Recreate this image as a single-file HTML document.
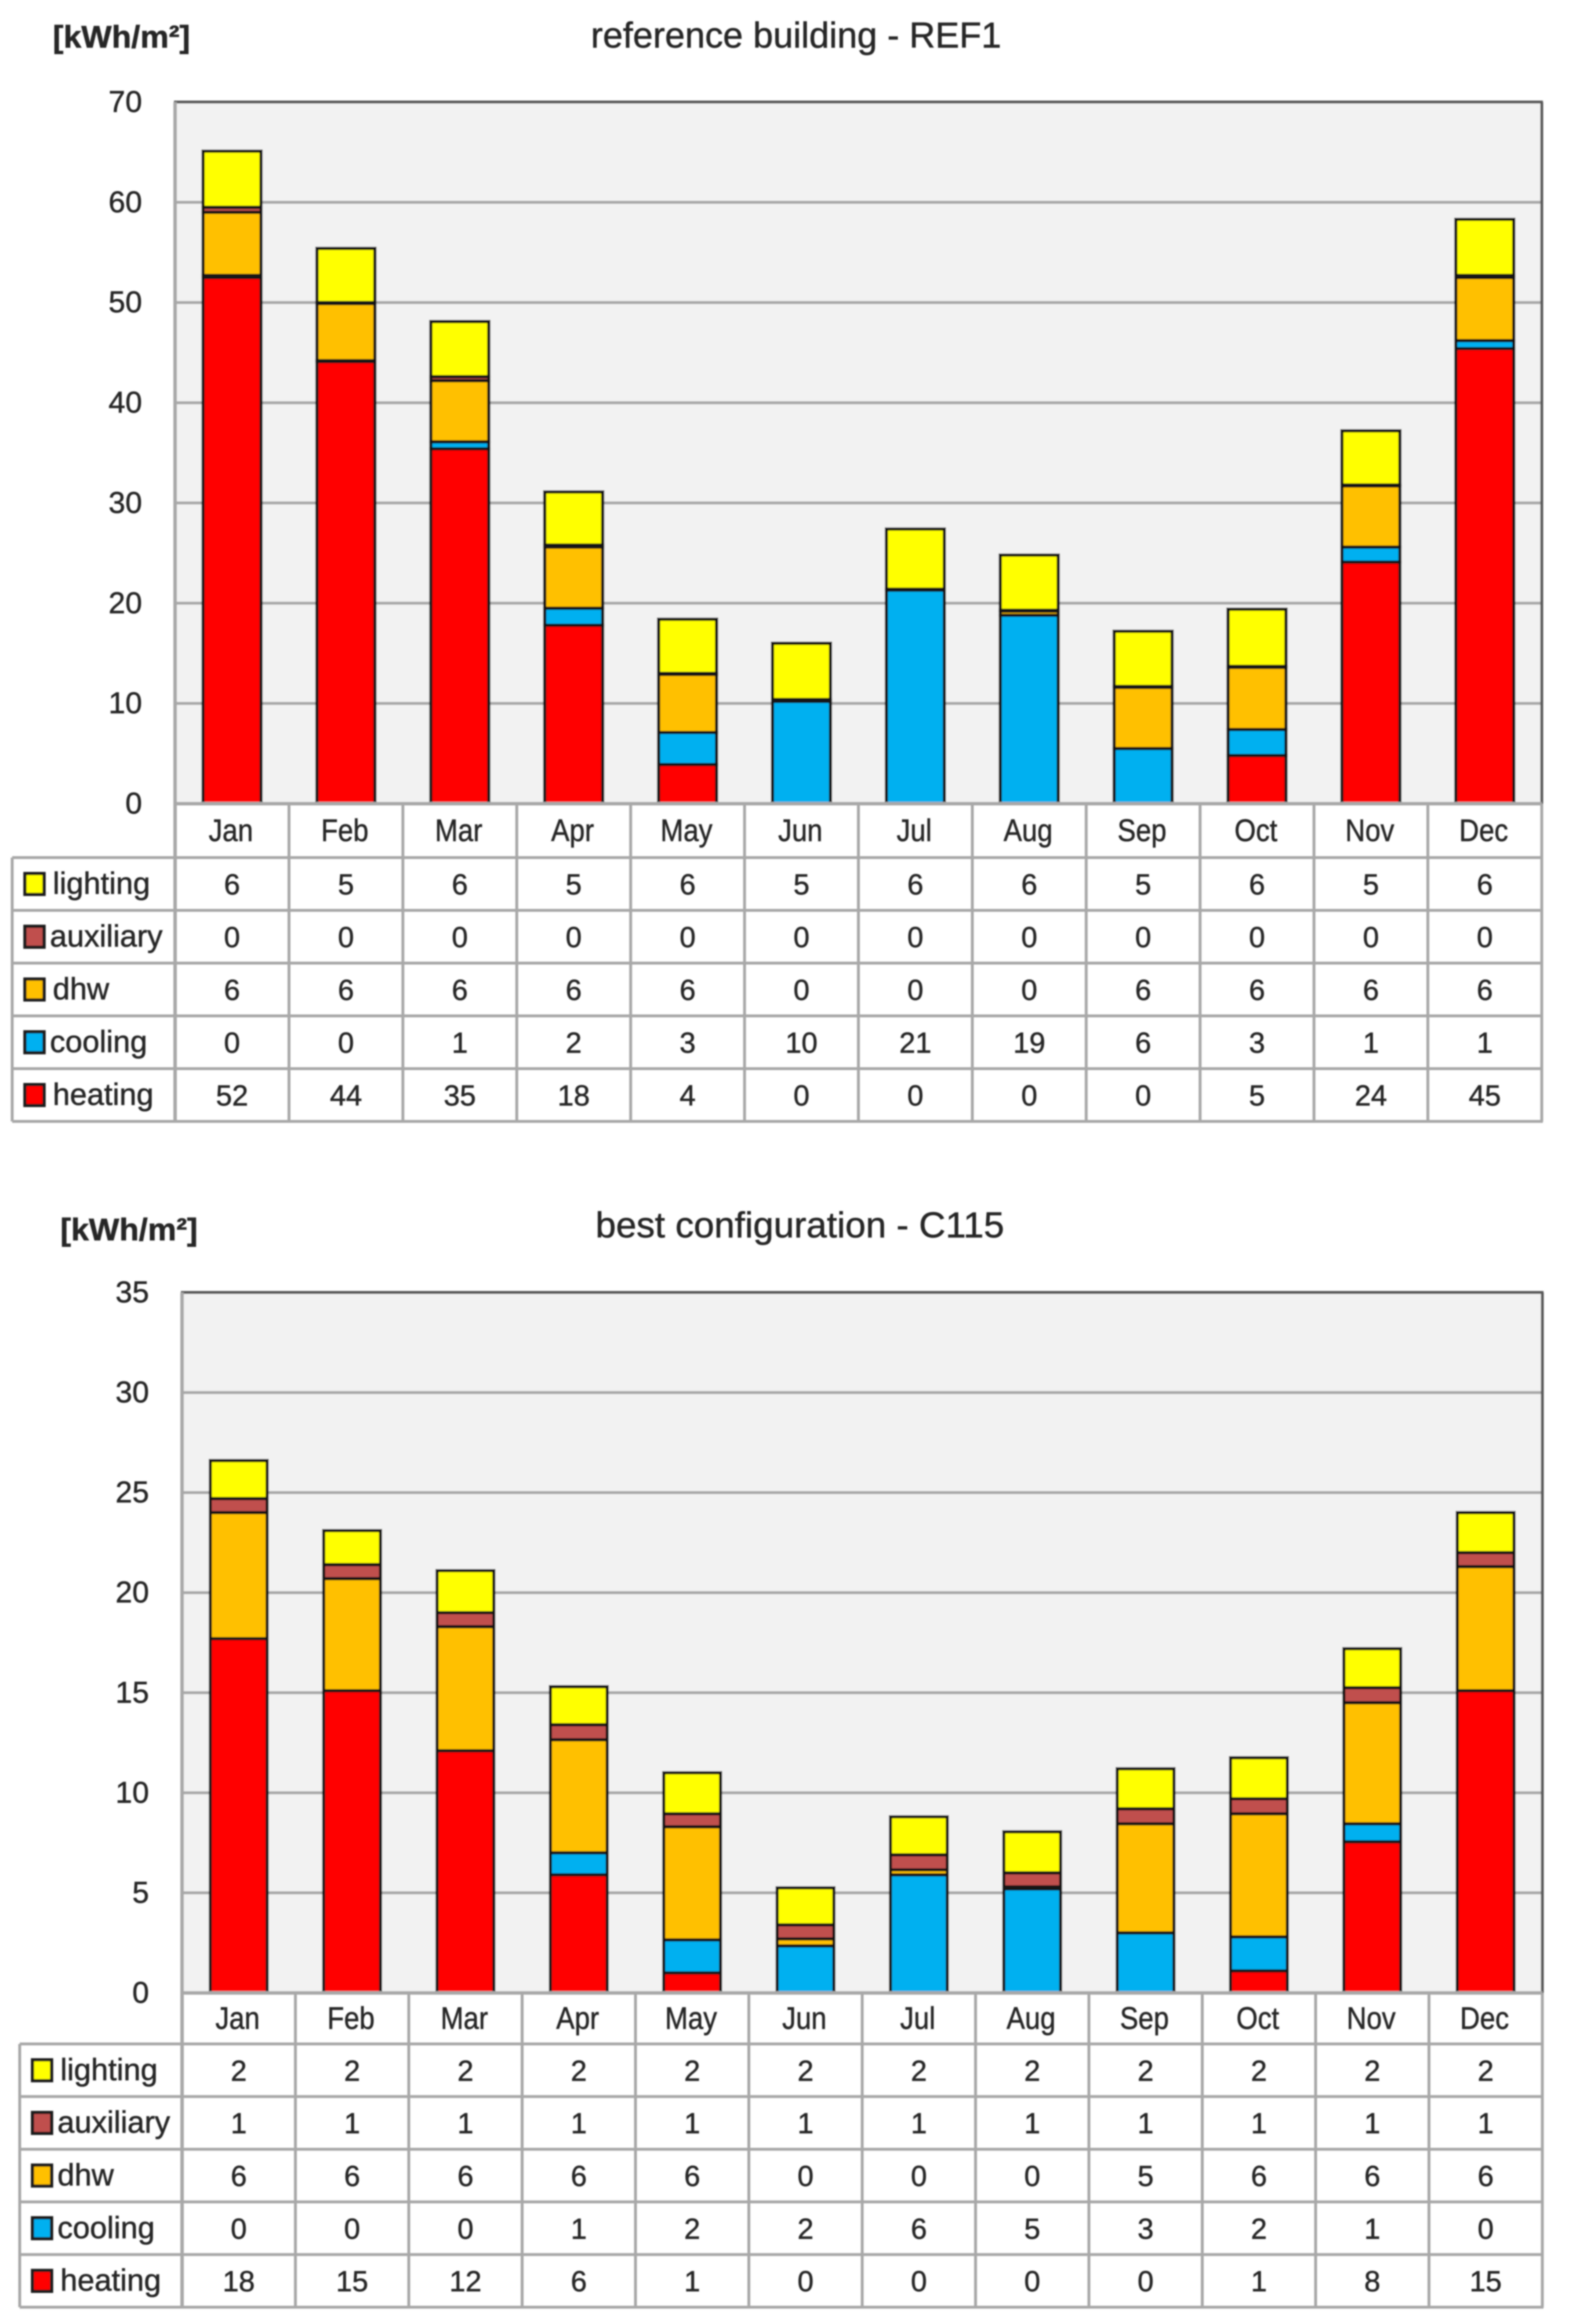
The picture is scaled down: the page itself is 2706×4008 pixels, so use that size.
<!DOCTYPE html>
<html lang="en">
<head>
<meta charset="utf-8">
<title>Monthly energy use: reference building and best configuration</title>
<style>
  html, body { margin: 0; padding: 0; background: #fff; }
  svg { display: block; }
  text { font-family: "Liberation Sans", sans-serif; fill: #262626; stroke: #262626; stroke-width: 0.7px; }
</style>
</head>
<body>
<svg id="figure" xmlns="http://www.w3.org/2000/svg" width="2706" height="4008" viewBox="0 0 2706 4008">
  <defs>
    <filter id="soft" x="0" y="0" width="2706" height="4008" filterUnits="userSpaceOnUse" primitiveUnits="userSpaceOnUse">
      <feGaussianBlur stdDeviation="1.3"/>
    </filter>
  </defs>
  <rect x="0" y="0" width="2706" height="4008" fill="#ffffff"/>
  <g id="root" filter="url(#soft)">
    <text x="91" y="82" font-size="54" font-weight="bold" textLength="237" lengthAdjust="spacingAndGlyphs">[kWh/m²]</text>
    <text x="1019" y="82" font-size="62" textLength="708" lengthAdjust="spacingAndGlyphs">reference building - REF1</text>
    <g id="chart1"></g>
    <text x="104" y="2139" font-size="54" font-weight="bold" textLength="237" lengthAdjust="spacingAndGlyphs">[kWh/m²]</text>
    <text x="1027" y="2134" font-size="62" textLength="705" lengthAdjust="spacingAndGlyphs">best configuration - C115</text>
    <g id="chart2"></g>
  </g>
</svg>
<script>
const months = ['Jan','Feb','Mar','Apr','May','Jun','Jul','Aug','Sep','Oct','Nov','Dec'];
const seriesNames = ['heating','cooling','dhw','auxiliary','lighting'];
const tableOrder = ['lighting','auxiliary','dhw','cooling','heating'];

const refTicks = [0,10,20,30,40,50,60,70];
const refHeating = [52.5,44.1,35.4,17.8,3.9,0,0,0,0,4.8,24.1,45.4];
const refCooling = [0.2,0.1,0.7,1.7,3.2,10.2,21.3,18.8,5.5,2.6,1.5,0.8];
const refDhw = [6.3,5.7,6.1,6.1,5.8,0.1,0,0.4,6.1,6.2,6.1,6.3];
const refAuxiliary = [0.5,0.1,0.4,0.2,0.1,0.1,0.1,0.1,0.1,0.1,0.1,0.2];
const refLighting = [5.6,5.4,5.5,5.3,5.4,5.6,6,5.5,5.5,5.7,5.4,5.6];

const refPrintedLighting = [6,5,6,5,6,5,6,6,5,6,5,6];
const refPrintedAuxiliary = [0,0,0,0,0,0,0,0,0,0,0,0];
const refPrintedDhw = [6,6,6,6,6,0,0,0,6,6,6,6];
const refPrintedCooling = [0,0,1,2,3,10,21,19,6,3,1,1];
const refPrintedHeating = [52,44,35,18,4,0,0,0,0,5,24,45];

const bestTicks = [0,5,10,15,20,25,30,35];
const bestHeating = [17.7,15.1,12.1,5.9,1,0,0,0,0,1.1,7.55,15.1];
const bestCooling = [0,0,0,1.1,1.65,2.35,5.9,5.2,3,1.7,0.9,0];
const bestDhw = [6.3,5.6,6.2,5.65,5.65,0.35,0.25,0.1,5.45,6.15,6.05,6.2];
const bestAuxiliary = [0.7,0.7,0.7,0.75,0.65,0.7,0.75,0.7,0.75,0.75,0.75,0.7];
const bestLighting = [1.9,1.7,2.1,1.9,2.05,1.85,1.9,2.05,2,2.05,1.95,2];

const bestPrintedLighting = [2,2,2,2,2,2,2,2,2,2,2,2];
const bestPrintedAuxiliary = [1,1,1,1,1,1,1,1,1,1,1,1];
const bestPrintedDhw = [6,6,6,6,6,0,0,0,5,6,6,6];
const bestPrintedCooling = [0,0,0,1,2,2,6,5,3,2,1,0];
const bestPrintedHeating = [18,15,12,6,1,0,0,0,0,1,8,15];

const seriesColors = {heating:'#ff0000', cooling:'#00b0f0', dhw:'#ffc000', auxiliary:'#c0504d', lighting:'#ffff00'};

const SVG_NS = 'http://www.w3.org/2000/svg';

function make(parent, tag, attrs, content) {
  const node = document.createElementNS(SVG_NS, tag);
  for (const key in attrs) node.setAttribute(key, attrs[key]);
  if (content !== undefined) node.textContent = content;
  parent.appendChild(node);
  return node;
}

function drawChart(host, cfg) {
  const plotW = cfg.right - cfg.left;
  const colW = plotW / months.length;
  const maxTick = cfg.ticks[cfg.ticks.length - 1];
  const yScale = v => cfg.bottom - (v / maxTick) * (cfg.bottom - cfg.top);
  const xBand = i => cfg.left + colW * i;
  const tableBottom = cfg.header + cfg.rowH * tableOrder.length;
  const grid = '#a8a8a8';

  let el = make(host, 'rect', {x: cfg.left, y: cfg.top, width: plotW, height: cfg.bottom - cfg.top, fill: '#f2f2f2'});
  
  

  cfg.ticks.forEach(tick => {
    const y = yScale(tick);
    if (tick !== 0 && tick !== maxTick) {
      const line = make(host, 'line', {x1: cfg.left, x2: cfg.right, y1: y, y2: y, stroke: grid, 'stroke-width': 5});
      
      
    }
    const label = make(host, 'text', {x: cfg.tickX, y: y + 17, 'font-size': 52, 'text-anchor': 'end'}, String(tick));
    
    
  });

  months.forEach((month, i) => {
    const barX = xBand(i) + colW / 2 - cfg.barW / 2;
    let running = 0;
    seriesNames.forEach(name => {
      const value = cfg.series[name][i];
      if (value <= 0) return;
      const yTop = yScale(running + value);
      const yBase = yScale(running);
      const seg = make(host, 'rect', {x: barX, y: yTop, width: cfg.barW, height: yBase - yTop, fill: seriesColors[name], stroke: '#141414', 'stroke-width': 5.5});
      
      
      running += value;
    });
  });

  let border = make(host, 'line', {x1: cfg.left - 2, x2: cfg.right + 2, y1: cfg.top, y2: cfg.top, stroke: '#5a5a5a', 'stroke-width': 5});
  
  
  border = make(host, 'line', {x1: cfg.right, x2: cfg.right, y1: cfg.top, y2: cfg.bottom, stroke: '#5a5a5a', 'stroke-width': 5});
  
  
  border = make(host, 'line', {x1: cfg.left, x2: cfg.left, y1: cfg.top, y2: tableBottom, stroke: grid, 'stroke-width': 6});
  
  
  border = make(host, 'line', {x1: cfg.left, x2: cfg.right, y1: cfg.bottom, y2: cfg.bottom, stroke: grid, 'stroke-width': 6});
  
  

  for (let i = 1; i <= months.length; i++) {
    const v = make(host, 'line', {x1: xBand(i), x2: xBand(i), y1: cfg.bottom, y2: tableBottom, stroke: grid, 'stroke-width': 5});
    
    
  }
  const leftEdge = make(host, 'line', {x1: cfg.tableLeft, x2: cfg.tableLeft, y1: cfg.header, y2: tableBottom, stroke: grid, 'stroke-width': 5});
  
  
  for (let r = 0; r <= tableOrder.length; r++) {
    const y = cfg.header + r * cfg.rowH;
    const h = make(host, 'line', {x1: cfg.tableLeft, x2: cfg.right + 2, y1: y, y2: y, stroke: grid, 'stroke-width': 5});
    
    
  }

  months.forEach((month, i) => {
    const mx = xBand(i) + colW / 2 - 2;
    const my = (cfg.bottom + cfg.header) / 2 + 18;
    const label = make(host, 'text', {x: 0, y: 0, transform: 'translate(' + mx + ' ' + my + ') scale(0.88 1)', 'font-size': 54, 'text-anchor': 'middle'}, month);
    
    
  });

  tableOrder.forEach((name, r) => {
    const midY = cfg.header + cfg.rowH * (r + 0.5);
    const key = make(host, 'rect', {x: cfg.tableLeft + 22, y: midY - 18, width: 33, height: 36, fill: seriesColors[name], stroke: '#1a1a1a', 'stroke-width': 5.5});
    
    
    const narrow = name === 'auxiliary' || name === 'cooling' || (name === 'dhw' && cfg.dhwNarrow);
    const label = make(host, 'text', {x: cfg.tableLeft + (narrow ? 65 : 70), y: midY + 17, 'font-size': 53}, name);
    
    
    cfg.printed[name].forEach((value, i) => {
      const cell = make(host, 'text', {x: xBand(i) + colW / 2, y: midY + 18, 'font-size': 50, 'text-anchor': 'middle'}, String(value));
      
      
    });
  });
}

drawChart(document.getElementById('chart1'), {
  left: 302, right: 2659, top: 176, bottom: 1386,
  header: 1479, rowH: 91, tableLeft: 21, tickX: 245, barW: 100, dhwNarrow: false,
  ticks: refTicks,
  series: {heating: refHeating, cooling: refCooling, dhw: refDhw, auxiliary: refAuxiliary, lighting: refLighting},
  printed: {lighting: refPrintedLighting, auxiliary: refPrintedAuxiliary, dhw: refPrintedDhw, cooling: refPrintedCooling, heating: refPrintedHeating}
});

drawChart(document.getElementById('chart2'), {
  left: 314, right: 2660, top: 2229, bottom: 3437,
  header: 3525, rowH: 90.8, tableLeft: 34, tickX: 257, barW: 98, dhwNarrow: true,
  ticks: bestTicks,
  series: {heating: bestHeating, cooling: bestCooling, dhw: bestDhw, auxiliary: bestAuxiliary, lighting: bestLighting},
  printed: {lighting: bestPrintedLighting, auxiliary: bestPrintedAuxiliary, dhw: bestPrintedDhw, cooling: bestPrintedCooling, heating: bestPrintedHeating}
});
</script>
</body>
</html>
